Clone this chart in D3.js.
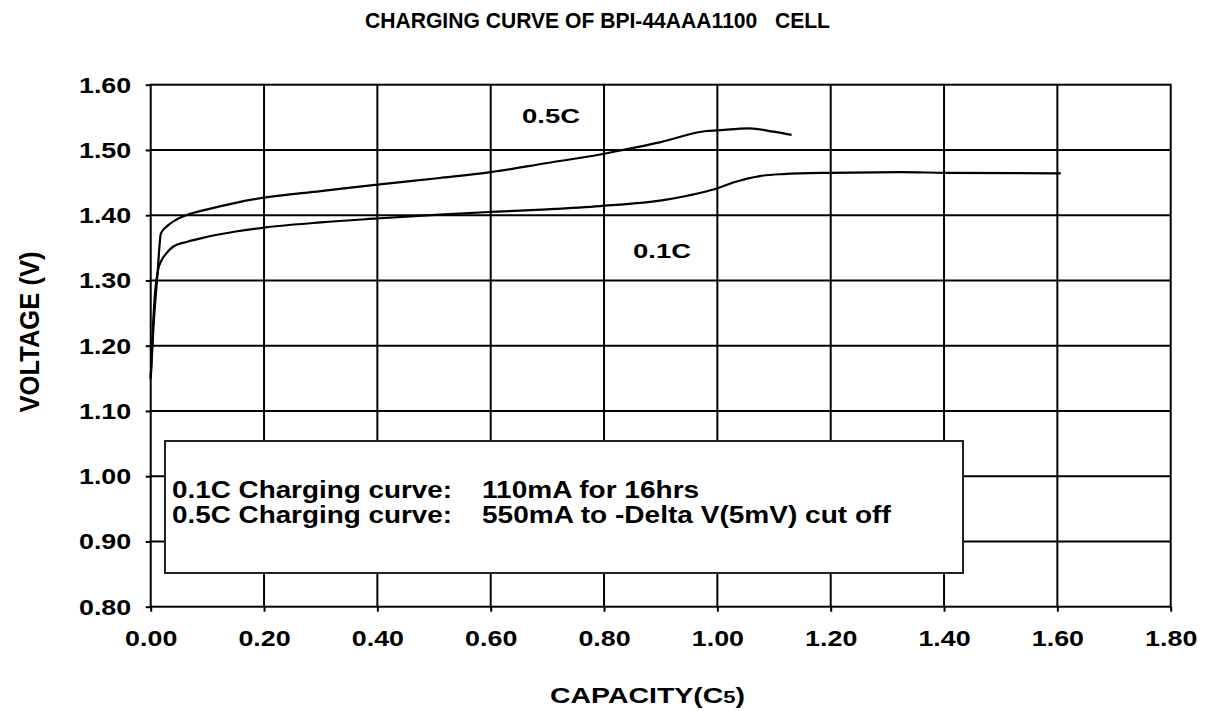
<!DOCTYPE html>
<html lang="en">
<head>
    <meta charset="utf-8">
    <script src="https://d3js.org/d3.v7.min.js"></script>
    <style>
        body { margin: 0; background: #fff; }
        text { font-family: "Liberation Sans", Arial, sans-serif; font-weight: bold; fill: #000; white-space: pre; }
    </style>
</head>
<body>
    <div id="chart"></div>
    <script>
        // capacity (C5) / voltage readings taken off the chart
        var cap01 = [0.000, 0.004, 0.008, 0.013, 0.020, 0.030, 0.040, 0.063, 0.100, 0.150, 0.200, 0.300, 0.400, 0.510, 0.600, 0.700, 0.793, 0.910, 0.969, 0.999, 1.028, 1.075, 1.116, 1.199, 1.322, 1.400, 1.606];
        var volt01 = [1.150, 1.230, 1.285, 1.316, 1.332, 1.344, 1.352, 1.359, 1.367, 1.375, 1.381, 1.389, 1.395, 1.401, 1.405, 1.409, 1.414, 1.424, 1.434, 1.441, 1.450, 1.460, 1.463, 1.465, 1.466, 1.465, 1.464];

        var cap05 = [0.000, 0.005, 0.012, 0.018, 0.030, 0.045, 0.063, 0.100, 0.150, 0.200, 0.300, 0.400, 0.510, 0.600, 0.700, 0.793, 0.834, 0.900, 0.981, 0.999, 1.057, 1.099, 1.131];
        var volt05 = [1.150, 1.230, 1.310, 1.372, 1.384, 1.393, 1.400, 1.409, 1.419, 1.427, 1.437, 1.447, 1.457, 1.466, 1.480, 1.493, 1.500, 1.512, 1.529, 1.530, 1.533, 1.528, 1.523];

        var xTicks = [0, 0.2, 0.4, 0.6, 0.8, 1.0, 1.2, 1.4, 1.6, 1.8];
        var yTicks = [0.8, 0.9, 1.0, 1.1, 1.2, 1.3, 1.4, 1.5, 1.6];

        var legendLabels = ["0.1C Charging curve:", "0.5C Charging curve:"];
        var legendValues = ["110mA for 16hrs", "550mA to -Delta V(5mV) cut off"];

        var width = 1205;
        var height = 711;
        var sx = 1.22; // text in the picture is stretched sideways

        var x = d3.scaleLinear().domain([0, 1.8]).range([150.7, 1170.7]);
        var y = d3.scaleLinear().domain([0.8, 1.6]).range([606.7, 84.7]);

        var svg = d3.select("#chart").append("svg")
          .attr("width", width)
          .attr("height", height);

        /* Grid */
        svg.append("g").selectAll("line")
          .data(xTicks.slice(1, -1)).enter()
          .append("line")
          .attr("x1", d => x(d)).attr("x2", d => x(d))
          .attr("y1", y(0.8)).attr("y2", y(1.6))
          .attr("stroke", "#000").attr("stroke-width", 2);

        svg.append("g").selectAll("line")
          .data(yTicks.slice(1, -1)).enter()
          .append("line")
          .attr("x1", x(0)).attr("x2", x(1.8))
          .attr("y1", d => y(d)).attr("y2", d => y(d))
          .attr("stroke", "#000").attr("stroke-width", 2);

        svg.append("rect")
          .attr("x", x(0)).attr("y", y(1.6))
          .attr("width", x(1.8) - x(0)).attr("height", y(0.8) - y(1.6))
          .attr("fill", "none").attr("stroke", "#000").attr("stroke-width", 2);

        /* Axes */
        var xAxis = d3.axisBottom(x).tickValues(xTicks).tickFormat(d3.format(".2f")).tickSizeInner(5).tickSizeOuter(0);
        var yAxis = d3.axisLeft(y).tickValues(yTicks).tickFormat(d3.format(".2f")).tickSizeInner(5).tickSizeOuter(0);

        var gx = svg.append("g")
          .attr("transform", `translate(0, ${y(0.8)})`)
          .call(xAxis);
        gx.select(".domain").remove();
        gx.selectAll("line").attr("stroke", "#000").attr("stroke-width", 2);
        gx.selectAll("text")
          .attr("y", 24).attr("dy", "0.71em")
          .attr("transform", `scale(${sx},1)`)
          .style("font-size", "22px").attr("font-family", null);

        var gy = svg.append("g")
          .attr("transform", `translate(${x(0)}, 0)`)
          .call(yAxis);
        gy.select(".domain").remove();
        gy.selectAll("line").attr("stroke", "#000").attr("stroke-width", 2);
        gy.selectAll("text")
          .attr("x", -16).attr("dy", "0.34em")
          .attr("transform", `scale(${sx},1)`)
          .style("font-size", "22px").attr("font-family", null);

        /* Curves */
        var line = d3.line()
          .x(d => x(d[0]))
          .y(d => y(d[1]))
          .curve(d3.curveMonotoneX);

        var series = [
          d3.zip(cap05, volt05),
          d3.zip(cap01, volt01)
        ];

        svg.append("g").selectAll("path")
          .data(series).enter()
          .append("path")
          .attr("d", d => line(d))
          .attr("fill", "none")
          .attr("stroke", "#000")
          .attr("stroke-width", 2.2);

        /* Texts */
        function stext(px, py, str, size, len, anchor) {
            var t = svg.append("text")
              .attr("transform", `translate(${px},${py}) scale(${sx},1)`)
              .attr("text-anchor", anchor || "start")
              .style("font-size", size + "px")
              .text(str);
            if (len) t.attr("textLength", len / sx).attr("lengthAdjust", "spacingAndGlyphs");
            return t;
        }

        stext(365, 28, "CHARGING CURVE OF BPI-44AAA1100   CELL", 22, 465);
        stext(522, 123, "0.5C", 21, 58);
        stext(633, 258, "0.1C", 21, 58);

        var xt = svg.append("text")
          .attr("transform", `translate(550,703) scale(${sx},1)`)
          .attr("textLength", 195 / sx).attr("lengthAdjust", "spacingAndGlyphs")
          .style("font-size", "22px");
        xt.append("tspan").text("CAPACITY(C");
        xt.append("tspan").style("font-size", "17px").text("5");
        xt.append("tspan").text(")");

        svg.append("text")
          .attr("transform", `translate(29,332) scale(${sx},1) rotate(-90)`)
          .attr("text-anchor", "middle")
          .attr("dy", "0.36em")
          .attr("textLength", 161).attr("lengthAdjust", "spacingAndGlyphs")
          .style("font-size", "22px")
          .text("VOLTAGE (V)");

        /* Legend box */
        svg.append("rect")
          .attr("x", 165).attr("y", 441)
          .attr("width", 798).attr("height", 132)
          .attr("fill", "#fff").attr("stroke", "#222").attr("stroke-width", 2);

        legendLabels.forEach(function(s, i) {
            stext(172, 498 + i * 25, s, 23, 280);
        });
        legendValues.forEach(function(s, i) {
            stext(482, 498 + i * 25, s, 23);
        });
    </script>
</body>
</html>
